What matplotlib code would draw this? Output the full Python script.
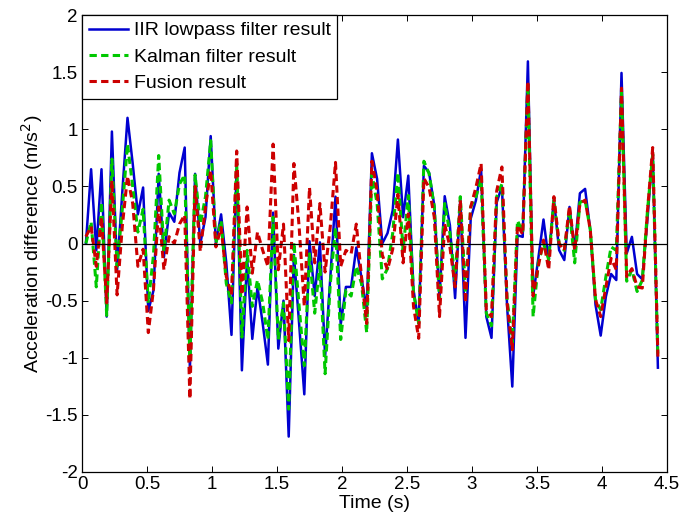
import numpy as np
import matplotlib
matplotlib.use('Agg')
import matplotlib.pyplot as plt

plt.rcParams['font.family'] = ['Liberation Sans', 'DejaVu Sans']
plt.rcParams['axes.unicode_minus'] = False

# sample times (s), 25 Hz
t0 = 0.03
dt = 0.04
n = 111
time = np.round(t0 + dt * np.arange(n), 2)

# IIR lowpass filter result
iir = [0, 0.65, -0.06, 0.65, -0.64, 0.98, -0.23, 0.45, 1.1, 0.7,
       0.255, 0.49, -0.59, -0.41, 0.61, -0.12, 0.27, 0.19, 0.62, 0.84,
       -1.1, 0.61, 0.0, 0.23, 0.94, 0.0, 0.255, -0.17, -0.8, 0.68,
       -1.11, -0.13, -0.835, -0.38, -0.7, -1.06, 0.27, -0.92, -0.5, -1.69,
       -0.1, -0.7, -1.32, 0.02, -0.46, 0.01, -0.99, -0.3, 0.41, -0.71,
       -0.38, -0.38, -0.035, -0.3, -0.58, 0.79, 0.565, 0.0, 0.09, 0.29,
       0.91, 0.23, 0.594, -0.406, -0.696, 0.68, 0.62, 0.333, -0.478, 0.414,
       0.16, -0.478, 0.39, -0.826, 0.217, 0.377, 0.652, -0.64, -0.826, 0.36,
       0.5, -0.55, -1.252, 0.072, 0.058, 1.594, -0.464, -0.13, 0.21, -0.145,
       0.39, -0.058, -0.145, 0.32, -0.058, 0.44, 0.478, 0.116, -0.536, -0.806,
       -0.464, -0.267, -0.32, 1.493, -0.087, 0.058, -0.267, -0.313, 0.217, 0.81,
       -1.087]

# Kalman filter result
kalman = [0, 0.19, -0.38, 0.36, -0.63, 0.74, -0.2, 0.3, 0.87, 0.5,
          0.1, 0.3, -0.52, -0.1, 0.77, -0.07, 0.38, 0.26, 0.52, 0.6,
          -1.01, 0.6, 0.17, 0.41, 0.9, 0.0, 0.2, -0.35, -0.52, 0.7,
          -0.82, -0.06, -0.55, -0.32, -0.52, -0.84, 0.23, -0.84, -0.52, -1.45,
          0.01, -0.55, -1.07, -0.09, -0.61, -0.17, -1.14, -0.35, 0.14, -0.84,
          -0.41, -0.46, -0.2, -0.35, -0.78, 0.61, 0.35, -0.31, -0.22, 0.09,
          0.62, -0.06, 0.42, -0.43, -0.7, 0.72, 0.61, 0.32, -0.49, 0.35,
          0.09, -0.32, 0.41, -0.43, 0.32, 0.41, 0.56, -0.61, -0.72, 0.41,
          0.52, -0.49, -0.87, 0.2, 0.1, 1.39, -0.64, -0.17, 0.0, -0.14,
          0.38, 0.0, -0.06, 0.29, -0.17, 0.36, 0.38, 0.12, -0.49, -0.58,
          -0.29, -0.03, -0.06, 1.33, -0.33, -0.23, -0.42, -0.32, 0.29, 0.78,
          -1.0]

# fusion result
fusion = [0.06, 0.15, -0.2, 0.23, -0.52, 0.55, -0.45, 0.15, 0.59, 0.35,
          -0.2, -0.05, -0.78, -0.4, 0.32, -0.23, 0.06, 0.0, 0.17, 0.25,
          -1.36, 0.5, -0.07, 0.32, 0.64, -0.03, 0.14, -0.29, -0.45, 0.81,
          -0.45, 0.32, -0.26, 0.1, -0.06, -0.2, 0.87, -0.23, 0.17, -0.85,
          0.7, 0.15, -0.55, 0.49, -0.17, 0.35, -0.25, 0.15, 0.71, -0.2,
          -0.06, -0.09, 0.17, -0.29, -0.7, 0.72, 0.46, -0.1, -0.23, -0.05,
          0.43, -0.17, 0.26, -0.55, -0.83, 0.57, 0.49, 0.23, -0.64, 0.17,
          -0.03, -0.38, 0.38, -0.52, 0.32, 0.49, 0.7, -0.58, -0.64, 0.46,
          0.67, -0.52, -0.93, 0.16, 0.08, 1.42, -0.46, -0.2, 0.03, -0.23,
          0.41, 0.0, -0.06, 0.33, -0.06, 0.35, 0.38, 0.12, -0.49, -0.64,
          -0.38, -0.13, -0.23, 1.36, -0.29, -0.22, -0.38, -0.39, 0.29, 0.84,
          -0.99]

labels = ['IIR lowpass filter result', 'Kalman filter result', 'Fusion result']
xticks = [0, 0.5, 1, 1.5, 2, 2.5, 3, 3.5, 4, 4.5]
yticks = [-2, -1.5, -1, -0.5, 0, 0.5, 1, 1.5, 2]

fig = plt.figure(figsize=(6.79, 5.22), dpi=100)
ax = fig.add_axes([82/679, 50/522, 585/679, 457/522])

ax.plot(time, iir, color='#0000d0', lw=1.8, label=labels[0])
ax.plot(time, kalman, color='#00c800', lw=2.2, dashes=(2.4, 1.4), label=labels[1])
ax.plot(time, fusion, color='#cc0000', lw=2.2, dashes=(2.4, 1.4), label=labels[2])
ax.axhline(0, color='black', lw=0.9)

ax.set_xlim(0, 4.5)
ax.set_ylim(-2, 2)
ax.set_xticks(xticks)
ax.set_xticklabels(['%g' % v for v in xticks])
ax.set_yticks(yticks)
ax.set_yticklabels(['%g' % v for v in yticks])
ax.tick_params(direction='in', top=True, right=True, length=4, width=0.7,
               labelsize=13.5, pad=3)
for s in ax.spines.values():
    s.set_linewidth(0.9)

ax.set_xlabel('Time (s)', fontsize=14, labelpad=1)
ax.set_ylabel('Acceleration difference (m/s$^2$)', fontsize=14, labelpad=0)

leg = ax.legend(loc='upper left', fontsize=14, frameon=True, fancybox=False,
                borderaxespad=0, handlelength=2.0, handletextpad=0.3,
                labelspacing=0.45, borderpad=0.35)
leg.get_frame().set_edgecolor('black')
leg.get_frame().set_linewidth(0.9)
leg.get_frame().set_alpha(1)

fig.savefig('out.png', dpi=100)
